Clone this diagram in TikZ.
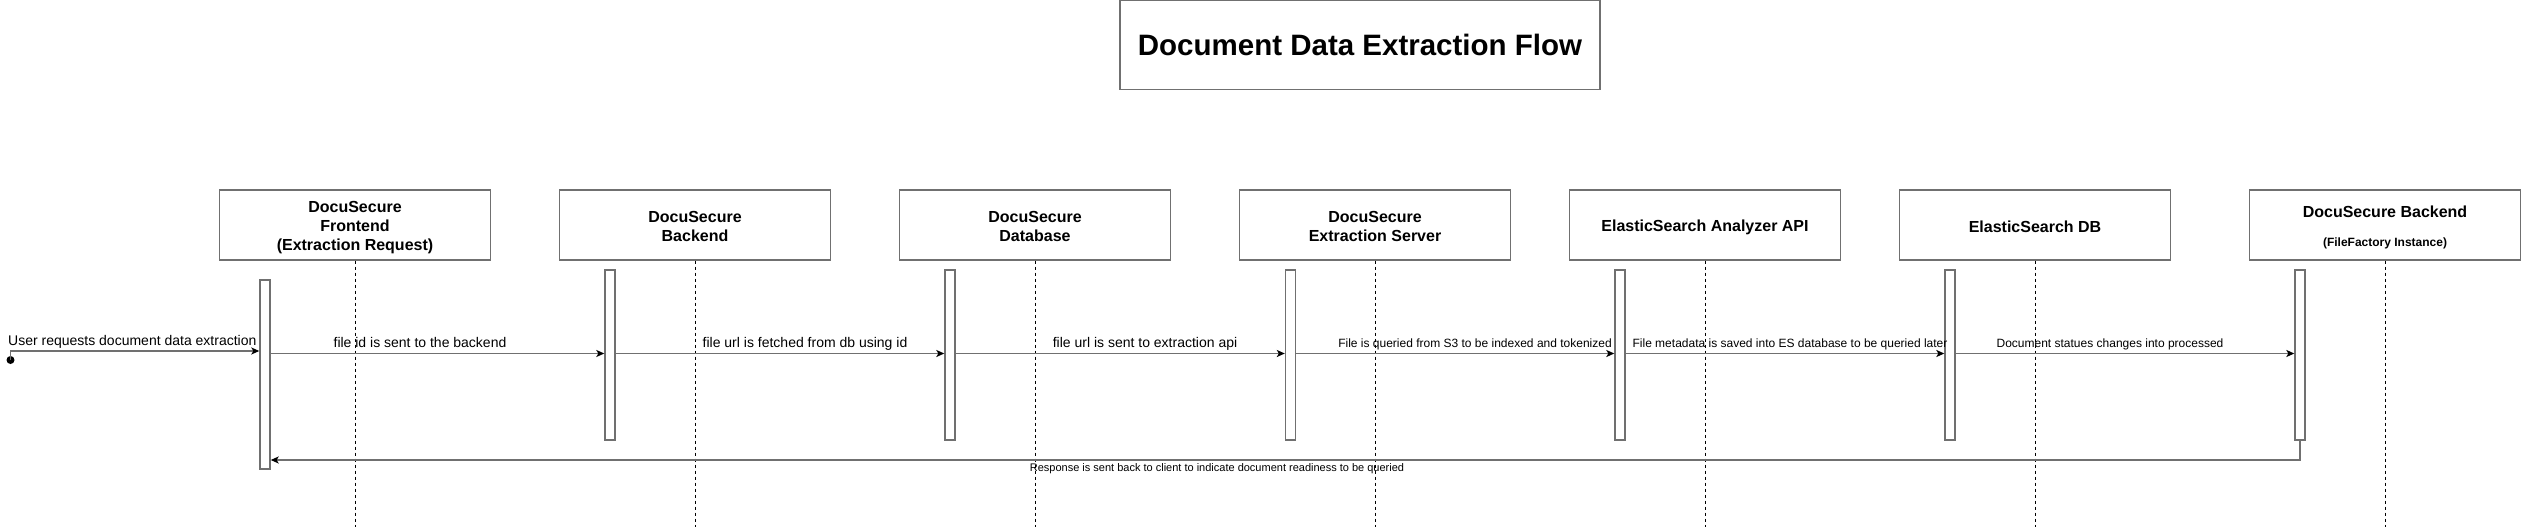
\documentclass[tikz,border=0pt]{standalone}
\usepackage{fontspec}
\setmainfont{Liberation Sans}
\usetikzlibrary{arrows.meta,calc}
\definecolor{edge}{RGB}{112,112,112}
\newcommand\lnstrut{\rule[-2.3pt]{0pt}{19.2pt}}
\begin{document}
\begin{tikzpicture}[x=1pt,y=-1pt,
  actor/.style={draw=edge,line width=1.4pt,fill=white,minimum width=271pt,minimum height=70pt,inner sep=0pt,
    font=\fontsize{16}{19.2}\selectfont\bfseries,align=center},
  bar/.style={draw=edge,line width=1.4pt,fill=white,minimum width=10pt,inner sep=0pt},
  life/.style={black,line width=0.9pt,dash pattern=on 3pt off 3pt},
  msg/.style={draw=edge,line width=1.4pt,-{Stealth[length=8pt,width=7pt,inset=2pt,color=black]}},
  lbl/.style={font=\fontsize{14}{16}\selectfont,anchor=base,inner sep=0pt},
  slbl/.style={font=\fontsize{12}{14}\selectfont,anchor=base,inner sep=0pt},
  xlbl/.style={font=\fontsize{11}{13}\selectfont,anchor=base,inner sep=0pt},
]
\useasboundingbox (0,0) rectangle (2521,532);

% title
\node[draw=edge,line width=1.4pt,minimum width=480pt,minimum height=89pt,inner sep=0pt,
  font=\fontsize{29.5}{34}\selectfont\bfseries] (title) at (1360,45) {Document Data Extraction Flow};

% participants
\node[actor] (p1) at (355,225) {\lnstrut DocuSecure\\\lnstrut Frontend\\\lnstrut (Extraction Request)};
\node[actor] (p2) at (695,225) {\lnstrut DocuSecure\\\lnstrut Backend};
\node[actor] (p3) at (1035,225) {\lnstrut DocuSecure\\\lnstrut Database};
\node[actor] (p4) at (1375,225) {\lnstrut DocuSecure\\\lnstrut Extraction Server};
\node[actor] (p5) at (1705,225) {\lnstrut ElasticSearch Analyzer API};
\node[actor] (p6) at (2035,225) {\lnstrut ElasticSearch DB};
\node[actor] (p7) at (2385,225) {};
\node[font=\fontsize{16}{19}\selectfont\bfseries,inner sep=0pt] (p7a) at (2385,212) {DocuSecure Backend};
\node[font=\fontsize{12}{14}\selectfont\bfseries,inner sep=0pt] (p7b) at (2385,243) {(FileFactory Instance)};

% lifelines
\coordinate (bottom) at (0,527);
\foreach \p in {p1,p2,p3,p4,p5,p6,p7}{
  \draw[life] (\p.south) -- (\p.south |- bottom);
}

% activation bars
\node[bar,minimum height=189pt] (b1) at (265,374.5) {};
\node[bar,minimum height=170pt] (b2) at (610,355) {};
\node[bar,minimum height=170pt] (b3) at (950,355) {};
\node[bar,minimum height=170pt] (b4) at (1290.5,355) {};
\node[bar,minimum height=170pt] (b5) at (1620,355) {};
\node[bar,minimum height=170pt] (b6) at (1950,355) {};
\node[bar,minimum height=170pt] (b7) at (2300,355) {};

% start
\node[circle,fill=black,minimum size=8pt,inner sep=0pt] (start) at (10.5,360) {};
\coordinate (urow) at (0,351);
\coordinate (row) at (0,353.5);
\coordinate (ret) at (0,460);

\draw[msg] (start.center) -- (start.center |- urow) -- (b1.west |- urow);
\node[lbl,anchor=base west] (l0) at (8,345) {User requests document data extraction};

\draw[msg] (b1.east |- row) -- (b2.west |- row);
\node[lbl] (l1) at (420,347.5) {file id is sent to the backend};
\draw[msg] (b2.east |- row) -- (b3.west |- row);
\node[lbl] (l2) at (805,347.5) {file url is fetched from db using id};
\draw[msg] (b3.east |- row) -- (b4.west |- row);
\node[lbl] (l3) at (1145,347.5) {file url is sent to extraction api};
\draw[msg] (b4.east |- row) -- (b5.west |- row);
\node[slbl] (l4) at (1475,347.5) {File is queried from S3 to be indexed and tokenized};
\draw[msg] (b5.east |- row) -- (b6.west |- row);
\node[slbl] (l5) at (1790,347.5) {File metadata is saved into ES database to be queried later};
\draw[msg] (b6.east |- row) -- (b7.west |- row);
\node[slbl] (l6) at (2110,347.5) {Document statues changes into processed};

\draw[msg] (b7.south) -- (b7.south |- ret) -- (b1.east |- ret);
\node[xlbl] (l7) at (1217,471) {Response is sent back to client to indicate document readiness to be queried};
\end{tikzpicture}
\end{document}
